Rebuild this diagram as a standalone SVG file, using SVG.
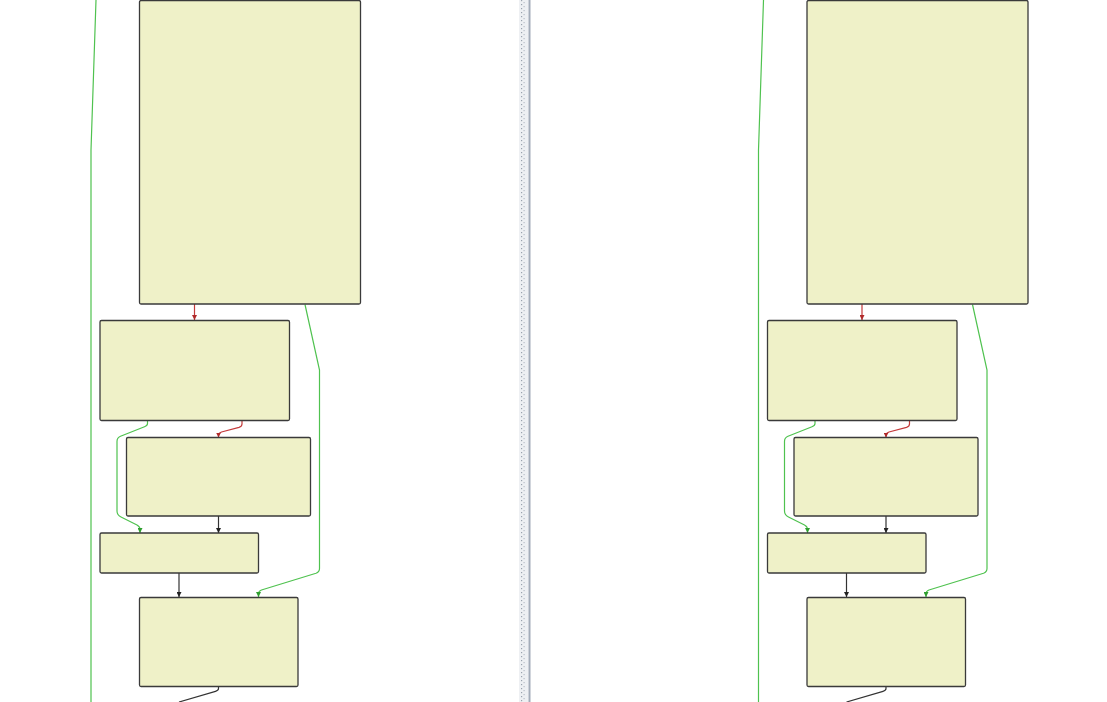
<svg xmlns="http://www.w3.org/2000/svg" width="1107" height="702" viewBox="0 0 1107 702">
  <style>
    .node { fill: #eff1c8; stroke: #3a3a3a; stroke-width: 1.3; }
    .e { fill: none; stroke-width: 1.2; }
    .g { stroke: #4fc24f; }
    .r { stroke: #c43a3a; }
    .k { stroke: #333333; }
  </style>
  <defs>
    <marker id="ag" viewBox="0 0 6 6" refX="6" refY="3" markerWidth="5" markerHeight="5" markerUnits="userSpaceOnUse" orient="auto">
      <path d="M0,0 L6,3 L0,6 z" fill="#2f9e2f"/>
    </marker>
    <marker id="ar" viewBox="0 0 6 6" refX="6" refY="3" markerWidth="5" markerHeight="5" markerUnits="userSpaceOnUse" orient="auto">
      <path d="M0,0 L6,3 L0,6 z" fill="#b02a2a"/>
    </marker>
    <marker id="ak" viewBox="0 0 6 6" refX="6" refY="3" markerWidth="5" markerHeight="5" markerUnits="userSpaceOnUse" orient="auto">
      <path d="M0,0 L6,3 L0,6 z" fill="#222222"/>
    </marker>
    <pattern id="dots" x="0" y="0" width="11" height="4" patternUnits="userSpaceOnUse">
      <rect x="4" y="0" width="1.2" height="1.2" fill="#9aa2ae"/>
      <rect x="6.5" y="2" width="1.2" height="1.2" fill="#b8bec8"/>
    </pattern>
  </defs>
  <rect x="0" y="0" width="1107" height="702" fill="#ffffff"/>

  <!-- Left panel -->
  <g id="left-panel">
    <g id="L-connectors">
      <path class="e g" d="M96 0 L91 150 V702"/>
      <path class="e r" d="M194.5 304 V320" marker-end="url(#ar)"/>
      <path class="e g" d="M305 304.5 L319.5 370 V568.5 Q319.5 572 316 573.2 L261.5 590 Q258.5 591 258.5 594 V597" marker-end="url(#ag)"/>
      <path class="e g" d="M147.5 421 V423.5 Q147.5 425.5 144.5 426.7 L120.5 436.3 Q117 437.7 117 441.5 V511 Q117 515 121 517 L137 525 Q140 526.5 140 529.5 V533" marker-end="url(#ag)"/>
      <path class="e r" d="M242 421 V424 Q242 426.5 239 427.4 L221.5 432 Q218.5 433 218.5 435.5 V437.5" marker-end="url(#ar)"/>
      <path class="e k" d="M218.5 516 V533" marker-end="url(#ak)"/>
      <path class="e k" d="M179 573 V597" marker-end="url(#ak)"/>
      <path class="e k" d="M218.5 686.5 V688.5 Q218.5 690.5 215.5 691.3 L179 702"/>
    </g>
    <g id="L-nodeA"><rect class="node" x="139.5" y="0.5" width="221" height="303.5" rx="1.5"/></g>
    <g id="L-nodeB"><rect class="node" x="100" y="320.5" width="189.5" height="100" rx="1.5"/></g>
    <g id="L-nodeC"><rect class="node" x="126.5" y="437.5" width="184" height="78.5" rx="1.5"/></g>
    <g id="L-nodeD"><rect class="node" x="100" y="533" width="158.5" height="40" rx="1.5"/></g>
    <g id="L-nodeE"><rect class="node" x="139.5" y="597.5" width="158.5" height="89" rx="1.5"/></g>
  </g>

  <!-- Splitter -->
  <g id="splitter">
    <rect x="519" y="0" width="9.5" height="702" fill="#eef0f3"/>
    <rect x="519" y="0" width="9.5" height="702" fill="url(#dots)"/>
    <rect x="528.5" y="0" width="2" height="702" fill="#a3acb9"/>
  </g>

  <!-- Right panel -->
  <g id="right-panel" transform="translate(667.5,0)">
    <g id="R-connectors">
      <path class="e g" d="M96 0 L91 150 V702"/>
      <path class="e r" d="M194.5 304 V320" marker-end="url(#ar)"/>
      <path class="e g" d="M305 304.5 L319.5 370 V568.5 Q319.5 572 316 573.2 L261.5 590 Q258.5 591 258.5 594 V597" marker-end="url(#ag)"/>
      <path class="e g" d="M147.5 421 V423.5 Q147.5 425.5 144.5 426.7 L120.5 436.3 Q117 437.7 117 441.5 V511 Q117 515 121 517 L137 525 Q140 526.5 140 529.5 V533" marker-end="url(#ag)"/>
      <path class="e r" d="M242 421 V424 Q242 426.5 239 427.4 L221.5 432 Q218.5 433 218.5 435.5 V437.5" marker-end="url(#ar)"/>
      <path class="e k" d="M218.5 516 V533" marker-end="url(#ak)"/>
      <path class="e k" d="M179 573 V597" marker-end="url(#ak)"/>
      <path class="e k" d="M218.5 686.5 V688.5 Q218.5 690.5 215.5 691.3 L179 702"/>
    </g>
    <g id="R-nodeA"><rect class="node" x="139.5" y="0.5" width="221" height="303.5" rx="1.5"/></g>
    <g id="R-nodeB"><rect class="node" x="100" y="320.5" width="189.5" height="100" rx="1.5"/></g>
    <g id="R-nodeC"><rect class="node" x="126.5" y="437.5" width="184" height="78.5" rx="1.5"/></g>
    <g id="R-nodeD"><rect class="node" x="100" y="533" width="158.5" height="40" rx="1.5"/></g>
    <g id="R-nodeE"><rect class="node" x="139.5" y="597.5" width="158.5" height="89" rx="1.5"/></g>
  </g>
</svg>
